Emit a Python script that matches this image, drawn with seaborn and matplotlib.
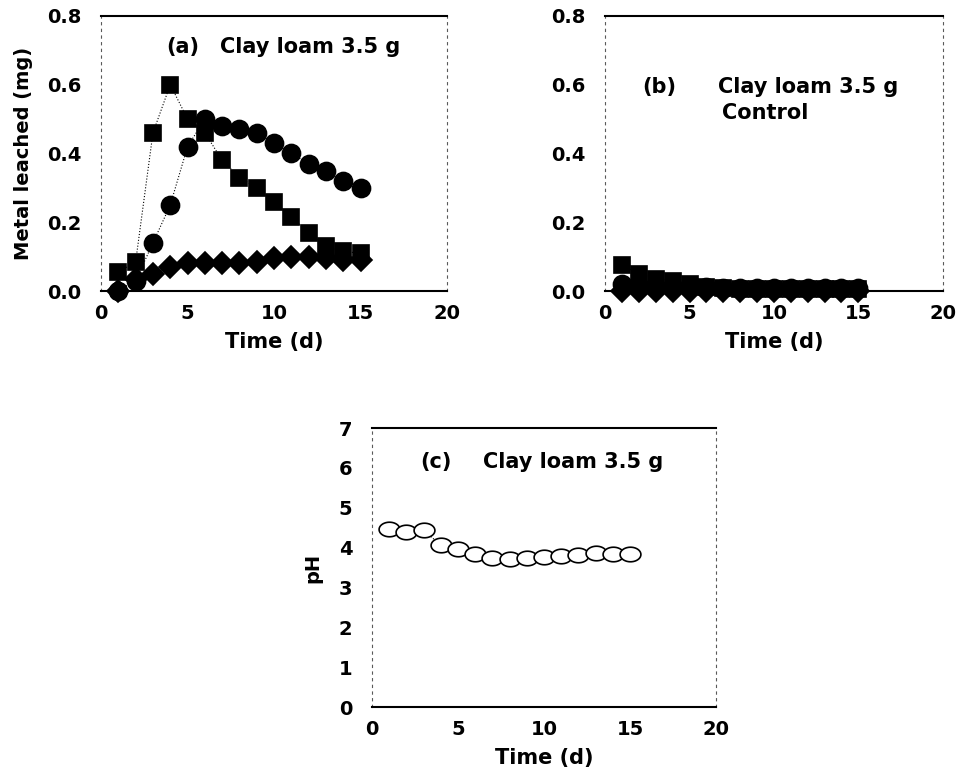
import numpy as np
import matplotlib
matplotlib.use('Agg')
import matplotlib.pyplot as plt
from matplotlib.path import Path
import seaborn as sns

# 数据
days = list(range(1, 16))

# (a) Clay loam 3.5 g
a_circle = [0.0, 0.03, 0.14, 0.25, 0.42, 0.50, 0.48, 0.47, 0.46, 0.43, 0.40, 0.37, 0.35, 0.32, 0.30]
a_square = [0.055, 0.085, 0.46, 0.60, 0.50, 0.46, 0.38, 0.33, 0.30, 0.26, 0.215, 0.17, 0.13, 0.115, 0.11]
a_diamond = [0.0, 0.035, 0.05, 0.07, 0.08, 0.08, 0.08, 0.08, 0.085, 0.095, 0.10, 0.10, 0.095, 0.09, 0.09]

# (b) Control
b_circle = [0.02, 0.015, 0.013, 0.012, 0.012, 0.011, 0.01, 0.01, 0.01, 0.01, 0.01, 0.01, 0.01, 0.01, 0.01]
b_square = [0.075, 0.05, 0.035, 0.03, 0.02, 0.012, 0.008, 0.006, 0.005, 0.005, 0.005, 0.005, 0.005, 0.005, 0.005]
b_diamond = [0.0] * 15

# (c) pH
ph = [4.47, 4.40, 4.43, 4.07, 3.96, 3.84, 3.75, 3.71, 3.73, 3.77, 3.80, 3.81, 3.86, 3.84, 3.84]

sns.set_style('white')
plt.rcParams['font.family'] = ['DejaVu Sans']
plt.rcParams['font.weight'] = 'bold'
plt.rcParams['axes.labelweight'] = 'bold'
plt.rcParams['text.color'] = 'black'
plt.rcParams['axes.labelcolor'] = 'black'
plt.rcParams['xtick.color'] = 'black'
plt.rcParams['ytick.color'] = 'black'

# 扫描图里的空心圆是扁的, 用椭圆 marker
t = np.linspace(0, 2 * np.pi, 40)
ellipse = Path(np.column_stack([np.cos(t), 0.7 * np.sin(t)]), closed=True)

fig = plt.figure(figsize=(9.56, 7.75), dpi=100)
ax_a = fig.add_axes([0.1057, 0.6245, 0.362, 0.355])
ax_b = fig.add_axes([0.633, 0.6245, 0.353, 0.355])
ax_c = fig.add_axes([0.389, 0.0877, 0.36, 0.36])


def style_axes(ax, ylim, yticks, yfmt):
    ax.set_xlim(0, 20)
    ax.set_ylim(*ylim)
    ax.set_xticks([0, 5, 10, 15, 20])
    ax.set_yticks(yticks)
    ax.set_yticklabels([yfmt.format(v) for v in yticks])
    for s in ['top', 'bottom']:
        ax.spines[s].set_linewidth(1.5)
        ax.spines[s].set_color('black')
    for s in ['left', 'right']:
        ax.spines[s].set_linewidth(0.8)
        ax.spines[s].set_linestyle((0, (2, 4)))
        ax.spines[s].set_color('0.35')
    ax.tick_params(axis='y', direction='in', length=5, width=1, pad=14, labelsize=14)
    ax.tick_params(axis='x', direction='in', length=0, pad=9, labelsize=14)
    ax.set_xlabel('Time (d)', fontsize=15, labelpad=7)


def draw_series(ax, y, marker, size, filled=True):
    sns.lineplot(x=days, y=y, ax=ax, color='black', linestyle=':', linewidth=0.8,
                 marker=marker, markersize=size,
                 markerfacecolor='black' if filled else 'white',
                 markeredgecolor='black', markeredgewidth=1.2, clip_on=False)


# (a)
style_axes(ax_a, (0, 0.8), [0.0, 0.2, 0.4, 0.6, 0.8], '{:.1f}')
draw_series(ax_a, a_diamond, 'D', 11)
draw_series(ax_a, a_square, 's', 12)
draw_series(ax_a, a_circle, 'o', 13)
ax_a.set_ylabel('Metal leached (mg)', fontsize=14, labelpad=10)
ax_a.text(3.76, 0.71, '(a)', fontsize=15, ha='left', va='center')
ax_a.text(6.9, 0.71, 'Clay loam 3.5 g', fontsize=15, ha='left', va='center')

# (b)
style_axes(ax_b, (0, 0.8), [0.0, 0.2, 0.4, 0.6, 0.8], '{:.1f}')
draw_series(ax_b, b_diamond, 'D', 11)
draw_series(ax_b, b_square, 's', 12)
draw_series(ax_b, b_circle, 'o', 13)
ax_b.set_ylabel('')
ax_b.text(2.2, 0.593, '(b)', fontsize=15, ha='left', va='center')
ax_b.text(6.7, 0.593, 'Clay loam 3.5 g', fontsize=15, ha='left', va='center')
ax_b.text(6.9, 0.518, 'Control', fontsize=15, ha='left', va='center')

# (c)
style_axes(ax_c, (0, 7), [0, 1, 2, 3, 4, 5, 6, 7], '{:d}')
draw_series(ax_c, ph, ellipse, 15, filled=False)
ax_c.set_ylabel('pH', fontsize=14, labelpad=12)
ax_c.text(2.8, 6.15, '(c)', fontsize=15, ha='left', va='center')
ax_c.text(6.45, 6.15, 'Clay loam 3.5 g', fontsize=15, ha='left', va='center')

fig.savefig('out.png', dpi=100)
